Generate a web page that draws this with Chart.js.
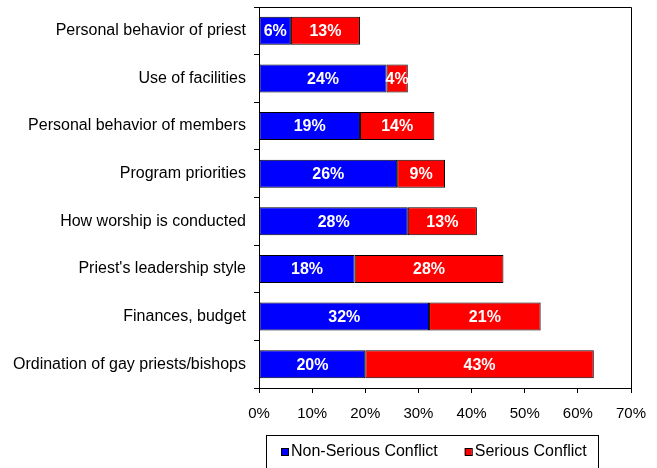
<!DOCTYPE html>
<html>
<head>
<meta charset="utf-8">
<script src="https://cdn.jsdelivr.net/npm/chart.js@4.4.1/dist/chart.umd.min.js"></script>
<style>
  html, body { margin: 0; padding: 0; background: #fff; }
</style>
</head>
<body>
<canvas id="chart" width="657" height="468"></canvas>
<script>
const categories = [
  'Personal behavior of priest',
  'Use of facilities',
  'Personal behavior of members',
  'Program priorities',
  'How worship is conducted',
  "Priest's leadership style",
  'Finances, budget',
  'Ordination of gay priests/bishops'
];
const nonSerious = [6, 24, 19, 26, 28, 18, 32, 20];
const serious = [13, 4, 14, 9, 13, 28, 21, 43];
const xTickValues = [0, 10, 20, 30, 40, 50, 60, 70];

const FONT = '"Liberation Sans", Arial, sans-serif';

// white % labels inside each segment
const barLabels = {
  id: 'barLabels',
  afterDatasetsDraw(chart) {
    const ctx = chart.ctx;
    ctx.save();
    ctx.font = 'bold 16px ' + FONT;
    ctx.fillStyle = '#fff';
    ctx.textAlign = 'center';
    ctx.textBaseline = 'middle';
    chart.data.datasets.forEach((ds, i) => {
      chart.getDatasetMeta(i).data.forEach((bar, j) => {
        const p = bar.getProps(['x', 'y', 'base'], true);
        ctx.fillText(ds.data[j] + '%', (p.x + p.base) / 2, p.y + 1);
      });
    });
    ctx.restore();
  }
};

// top + right frame of the plot area, and the boxed legend underneath
const frameAndLegend = {
  id: 'frameAndLegend',
  afterDraw(chart) {
    const ctx = chart.ctx;
    const a = chart.chartArea;
    ctx.save();
    ctx.strokeStyle = '#000';
    ctx.lineWidth = 1;
    ctx.beginPath();
    ctx.moveTo(a.left, Math.round(a.top) + 0.5);
    ctx.lineTo(Math.round(a.right) + 0.5, Math.round(a.top) + 0.5);
    ctx.lineTo(Math.round(a.right) + 0.5, a.bottom);
    ctx.stroke();

    ctx.strokeRect(266.5, 435.5, 332, 40);
    ctx.font = '16px ' + FONT;
    ctx.textBaseline = 'middle';
    let x = 281;
    chart.data.datasets.forEach(ds => {
      ctx.fillStyle = ds.backgroundColor;
      ctx.fillRect(x, 448, 7, 7);
      ctx.strokeRect(x + 0.5, 448.5, 7, 7);
      ctx.fillStyle = '#000';
      ctx.fillText(ds.label, x + 10, 452);
      x += 10 + ctx.measureText(ds.label).width + 27;
    });
    ctx.restore();
  }
};

function noEdgePadding(scale) {
  scale.paddingTop = 0;
  scale.paddingBottom = 0;
  scale.paddingLeft = 0;
  scale.paddingRight = 0;
}

new Chart(document.getElementById('chart'), {
  type: 'bar',
  data: {
    labels: categories,
    datasets: [
      { label: 'Non-Serious Conflict', data: nonSerious, backgroundColor: '#0000FF', borderColor: '#000', borderWidth: 1, borderSkipped: false },
      { label: 'Serious Conflict', data: serious, backgroundColor: '#FF0000', borderColor: '#000', borderWidth: 1, borderSkipped: false }
    ]
  },
  options: {
    indexAxis: 'y',
    responsive: false,
    animation: false,
    layout: { padding: { top: 7, right: 26, left: 0, bottom: 0 } },
    datasets: { bar: { categoryPercentage: 1, barPercentage: 0.59 } },
    plugins: {
      legend: { display: false },
      tooltip: { enabled: false }
    },
    scales: {
      x: {
        stacked: true,
        min: 0,
        max: 70,
        afterBuildTicks(scale) { scale.ticks = xTickValues.map(v => ({ value: v })); },
        afterFit(scale) { scale.height = 80; noEdgePadding(scale); },
        border: { color: '#000', width: 1 },
        grid: { drawOnChartArea: false, tickLength: 5, color: '#000' },
        ticks: {
          color: '#000',
          padding: 12,
          font: { family: FONT, size: 15 },
          callback: v => v + '%'
        }
      },
      y: {
        stacked: true,
        afterFit(scale) { scale.width = 259; noEdgePadding(scale); },
        border: { color: '#000', width: 1 },
        grid: { drawOnChartArea: false, tickLength: 5, color: '#000', offset: true },
        ticks: {
          color: '#000',
          padding: 8,
          font: { family: FONT, size: 16 }
        }
      }
    }
  },
  plugins: [barLabels, frameAndLegend]
});
</script>
</body>
</html>
